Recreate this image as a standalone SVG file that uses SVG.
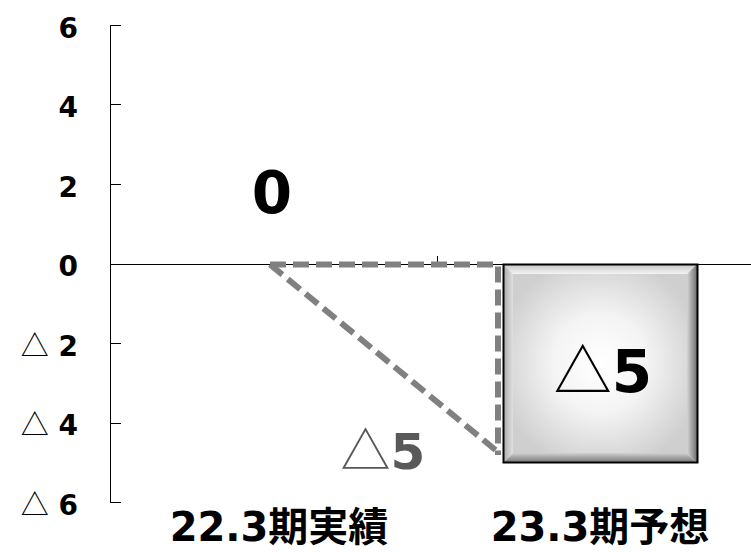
<svg xmlns="http://www.w3.org/2000/svg" width="751" height="552" viewBox="0 0 751 552">
<style>
.num{font-family:"DejaVu Sans","Noto Sans CJK JP",sans-serif;font-weight:bold;fill:#000}
.tri{font-family:"Noto Sans CJK JP",sans-serif;font-weight:normal}
.ax{font-size:28px}
.cat{font-family:"DejaVu Sans","Noto Sans CJK JP",sans-serif;font-weight:bold;font-size:40px;fill:#000}
.axis{stroke:#000;stroke-width:1;fill:none}
.dash{stroke:#808080;stroke-width:6;fill:none;stroke-dasharray:16 7}
</style>
<defs>
<radialGradient id="gc" cx="0.5" cy="0.5" r="0.6">
<stop offset="0" stop-color="#ffffff"/>
<stop offset="0.45" stop-color="#f4f4f4"/>
<stop offset="1" stop-color="#cfcfcf"/>
</radialGradient>
<linearGradient id="gt" x1="0" y1="0" x2="0" y2="1">
<stop offset="0" stop-color="#c4c4c4"/>
<stop offset="1" stop-color="#f4f4f4"/>
</linearGradient>
<linearGradient id="gl" x1="0" y1="0" x2="1" y2="0">
<stop offset="0" stop-color="#a8a8a8"/>
<stop offset="1" stop-color="#e0e0e0"/>
</linearGradient>
<linearGradient id="gri" x1="0" y1="0" x2="1" y2="0">
<stop offset="0" stop-color="#d4d4d4"/>
<stop offset="1" stop-color="#6e6e6e"/>
</linearGradient>
<linearGradient id="gb" x1="0" y1="0" x2="0" y2="1">
<stop offset="0" stop-color="#d0d0d0"/>
<stop offset="1" stop-color="#707070"/>
</linearGradient>
</defs>
<g id="axes">
<line class="axis" x1="110.5" y1="25" x2="110.5" y2="503"/>
<g stroke="#000" stroke-width="1">
<line x1="110" y1="25.5" x2="121" y2="25.5"/>
<line x1="110" y1="104.5" x2="121" y2="104.5"/>
<line x1="110" y1="184.5" x2="121" y2="184.5"/>
<line x1="110" y1="343.5" x2="121" y2="343.5"/>
<line x1="110" y1="423.5" x2="121" y2="423.5"/>
<line x1="110" y1="502.5" x2="121" y2="502.5"/>
<line x1="437.5" y1="256" x2="437.5" y2="264"/>
</g>
<line class="axis" x1="110" y1="264.5" x2="751" y2="264.5"/>
</g>
<g id="axis-labels" class="num ax" text-anchor="end">
<text x="78" y="38">6</text>
<text x="78" y="117">4</text>
<text x="78" y="197">2</text>
<text x="78" y="276">0</text>
<text x="78" y="356"><tspan class="tri">△</tspan> 2</text>
<text x="78" y="435"><tspan class="tri">△</tspan> 4</text>
<text x="78" y="515"><tspan class="tri">△</tspan> 6</text>
</g>
<g id="bar-22">
<text class="num" x="272" y="213" font-size="58" text-anchor="middle">0</text>
</g>
<g id="connectors">
<polyline class="dash" points="270,264.5 498,264.5 498,455"/>
<line class="dash" x1="270" y1="264.5" x2="498" y2="452"/>
</g>
<g id="diff-label">
<text class="num" x="383" y="469" font-size="50" text-anchor="middle" style="fill:#595959"><tspan class="tri">△</tspan>5</text>
</g>
<g id="bar-23">
<rect x="513" y="274" width="174" height="179" fill="url(#gc)"/>
<polygon points="503,264 697,264 687,274 513,274" fill="url(#gt)"/>
<polygon points="503,264 513,274 513,453 503,463" fill="url(#gl)"/>
<polygon points="697,264 697,463 687,453 687,274" fill="url(#gri)"/>
<polygon points="503,463 697,463 687,453 513,453" fill="url(#gb)"/>
<rect x="503.5" y="264.5" width="194" height="198" fill="none" stroke="#000" stroke-width="2"/>
<text class="num" x="603" y="392" font-size="58" text-anchor="middle"><tspan class="tri">△</tspan>5</text>
</g>
<g id="categories">
<text class="cat" x="279" y="541" text-anchor="middle">22.3期実績</text>
<text class="cat" x="600" y="541" text-anchor="middle">23.3期予想</text>
</g>
</svg>
